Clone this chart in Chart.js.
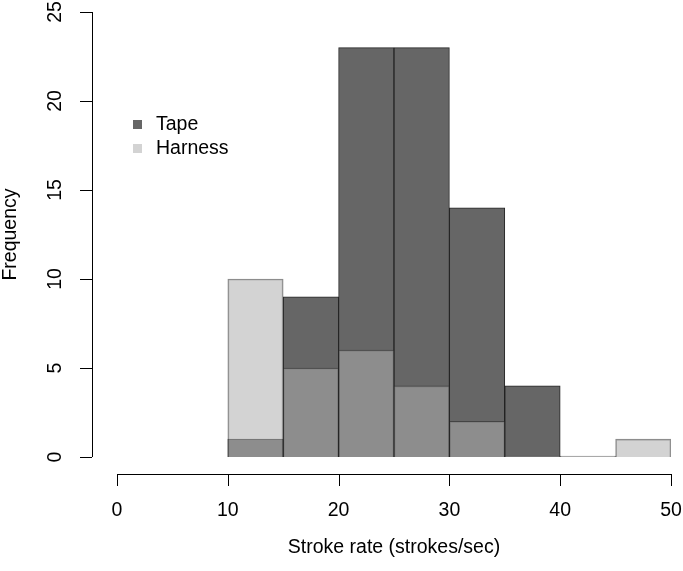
<!DOCTYPE html>
<html>
<head>
<meta charset="utf-8">
<script src="https://cdn.jsdelivr.net/npm/chart.js@4"></script>
<style>
  html, body { margin: 0; padding: 0; background: #fff; }
  #wrap { width: 683px; height: 571px; }
</style>
</head>
<body>
<div id="wrap"><canvas id="hist" width="683" height="571"></canvas></div>
<script>
// histogram bins (strokes/sec), 5 wide
const binStarts = [10, 15, 20, 25, 30, 35, 40, 45];
const tapeCounts = [1, 9, 23, 23, 14, 4];
const harnessCounts = [10, 5, 6, 4, 2, 0, 0, 1];
const xTicks = [0, 10, 20, 30, 40, 50];
const yTicks = [0, 5, 10, 15, 20, 25];
const legendLabels = ["Tape", "Harness"];
const legendColors = ["#666666", "#d3d3d3"];

const binWidth = 5;
const font = "19.5px 'Liberation Sans', Arial, sans-serif";

function toPoints(counts) {
    return counts.map((c, i) => ({ x: binStarts[i] + binWidth / 2, y: c }));
}

// R style axes, titles and legend, drawn off the chart's own scales
const rAxes = {
    id: "rAxes",
    afterDraw(chart) {
        const ctx = chart.ctx;
        const xs = chart.scales.x;
        const ys = chart.scales.y;
        const axisY = 474;
        const axisX = 92;
        const tickLen = 12;

        ctx.save();
        ctx.strokeStyle = "#000";
        ctx.lineWidth = 1;
        ctx.fillStyle = "#000";
        ctx.font = font;

        // x axis
        const x0 = xs.getPixelForValue(xTicks[0]);
        const x1 = xs.getPixelForValue(xTicks[xTicks.length - 1]);
        ctx.beginPath();
        ctx.moveTo(x0, axisY + 0.5);
        ctx.lineTo(x1, axisY + 0.5);
        xTicks.forEach(v => {
            const px = Math.round(xs.getPixelForValue(v)) + 0.5;
            ctx.moveTo(px, axisY);
            ctx.lineTo(px, axisY + tickLen);
        });
        ctx.stroke();
        ctx.textAlign = "center";
        ctx.textBaseline = "middle";
        xTicks.forEach(v => ctx.fillText(String(v), xs.getPixelForValue(v), 511));

        // y axis
        const y0 = ys.getPixelForValue(yTicks[0]);
        const y1 = ys.getPixelForValue(yTicks[yTicks.length - 1]);
        ctx.beginPath();
        ctx.moveTo(axisX + 0.5, y0);
        ctx.lineTo(axisX + 0.5, y1);
        yTicks.forEach(v => {
            const py = Math.round(ys.getPixelForValue(v)) + 0.5;
            ctx.moveTo(axisX, py);
            ctx.lineTo(axisX - tickLen, py);
        });
        ctx.stroke();
        yTicks.forEach(v => {
            ctx.save();
            ctx.translate(56, ys.getPixelForValue(v));
            ctx.rotate(-Math.PI / 2);
            ctx.fillText(String(v), 0, 0);
            ctx.restore();
        });

        // axis titles
        ctx.fillText("Stroke rate (strokes/sec)", (x0 + x1) / 2, 548);
        ctx.save();
        ctx.translate(11, (y0 + y1) / 2);
        ctx.rotate(-Math.PI / 2);
        ctx.fillText("Frequency", 0, 0);
        ctx.restore();

        // legend
        ctx.textAlign = "left";
        legendLabels.forEach((lab, i) => {
            const cy = 125 + i * 24;
            ctx.fillStyle = legendColors[i];
            ctx.fillRect(133, cy - 5, 9, 9);
            ctx.fillStyle = "#000";
            ctx.fillText(lab, 156, cy);
        });
        ctx.restore();
    }
};

new Chart(document.getElementById("hist"), {
    type: "bar",
    data: {
        datasets: [
            {
                label: "Tape",
                data: toPoints(tapeCounts),
                backgroundColor: "#666666",
                borderColor: "rgba(0,0,0,0.85)",
                borderWidth: 1,
                order: 1
            },
            {
                label: "Harness",
                data: toPoints(harnessCounts),
                backgroundColor: "rgba(173,173,173,0.54)",
                borderColor: "rgba(40,40,40,0.55)",
                borderWidth: 1,
                minBarLength: 1,
                order: 0
            }
        ]
    },
    options: {
        responsive: false,
        animation: false,
        devicePixelRatio: 1,
        layout: { padding: { left: 117, right: 12, top: 12, bottom: 114 } },
        datasets: {
            bar: { barPercentage: 1, categoryPercentage: 1, grouped: false }
        },
        scales: {
            x: {
                type: "linear",
                min: 0,
                max: 50,
                offset: false,
                display: false
            },
            y: {
                min: 0,
                max: 25,
                display: false
            }
        },
        plugins: {
            legend: { display: false },
            tooltip: { enabled: false }
        }
    },
    plugins: [rAxes]
});
</script>
</body>
</html>
